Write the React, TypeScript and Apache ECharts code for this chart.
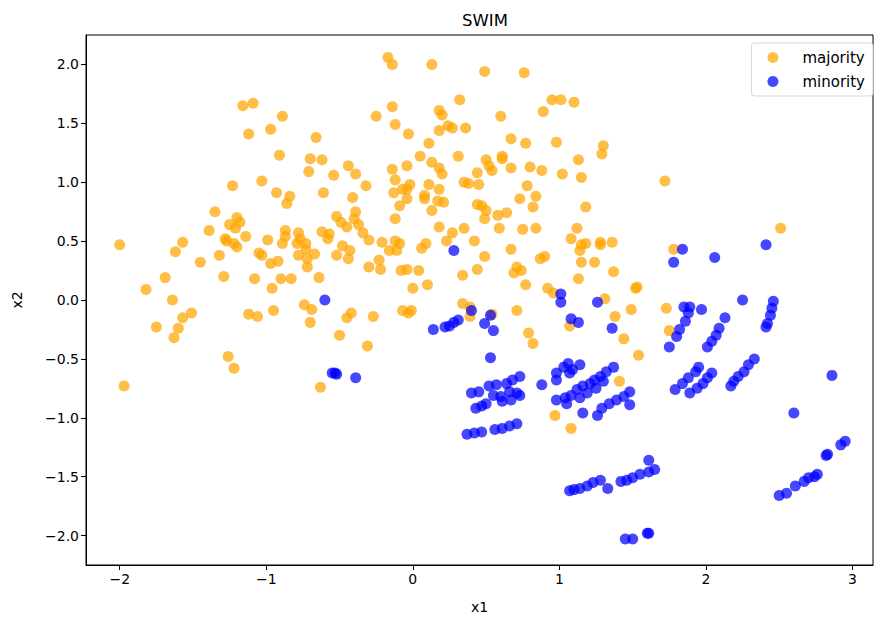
import React, { useEffect, useRef } from "react";
import * as echarts from "echarts";

const chartTitle = "SWIM";
const xName = "x1";
const yName = "x2";
const seriesNames = ["majority", "minority"];
const xTicks = [-2, -1, 0, 1, 2, 3];
const yTicks = [-2, -1.5, -1, -0.5, 0, 0.5, 1, 1.5, 2];

const majorityPoints: number[][] = [
  [-1.16, 1.65], [-1.09, 1.67], [-0.89, 1.56], [-1.12, 1.41], [-0.97, 1.45], [-0.66, 1.38],
  [-0.91, 1.23], [-0.70, 1.20], [-0.62, 1.19], [-0.71, 1.09], [-0.54, 1.06], [-0.44, 1.14],
  [-0.39, 1.07], [-0.32, 0.97], [-0.25, 1.56], [-1.23, 0.97], [-1.03, 1.01], [-0.93, 0.91],
  [-0.84, 0.88], [-0.86, 0.82], [-0.61, 0.91], [-0.41, 0.87], [-1.35, 0.75], [-1.20, 0.70],
  [-1.18, 0.66], [-1.25, 0.64], [-0.52, 0.71], [-0.49, 0.66], [-0.39, 0.75], [-0.40, 0.69],
  [-0.37, 0.64], [-0.45, 0.62],
  [-0.17, 2.06], [-0.14, 2.00], [0.13, 2.00], [0.49, 1.94], [0.76, 1.93], [-0.14, 1.64],
  [0.32, 1.70], [0.18, 1.61], [0.20, 1.57], [0.60, 1.56], [0.95, 1.70], [1.01, 1.70],
  [1.10, 1.68], [0.89, 1.60], [-0.12, 1.49], [-0.03, 1.41], [0.18, 1.44], [0.24, 1.48],
  [0.27, 1.46], [0.36, 1.46], [0.11, 1.33], [0.67, 1.37], [0.77, 1.33], [0.98, 1.34],
  [1.30, 1.31], [1.29, 1.24], [0.05, 1.22], [0.31, 1.22], [0.50, 1.19], [0.61, 1.22],
  [0.61, 1.20], [1.13, 1.19], [-0.14, 1.11], [-0.04, 1.14], [0.13, 1.17], [0.18, 1.12],
  [0.20, 1.07], [0.52, 1.14], [0.54, 1.10], [0.67, 1.12], [0.80, 1.13], [0.88, 1.10],
  [1.02, 1.07], [1.15, 1.04], [-0.12, 1.02], [-0.13, 0.91], [-0.04, 0.94], [-0.02, 0.98],
  [-0.07, 0.94], [0.11, 0.98], [0.18, 0.94], [0.08, 0.89], [0.08, 0.86], [-0.04, 0.86],
  [-0.09, 0.80], [0.17, 0.84], [0.21, 0.83], [0.13, 0.76], [0.35, 1.00], [0.38, 0.99],
  [0.44, 1.08], [0.45, 0.98], [0.78, 0.97], [0.84, 0.88], [0.73, 0.86], [0.82, 0.79],
  [1.18, 0.79], [0.44, 0.81], [0.47, 0.80], [0.50, 0.76], [0.49, 0.69], [0.58, 0.72],
  [0.64, 0.74], [-0.12, 0.69], [0.18, 0.62], [0.35, 0.61], [0.59, 0.61], [0.75, 0.60],
  [0.84, 0.61], [1.12, 0.61],
  [1.72, 1.01], [2.51, 0.61],
  [-2.00, 0.47], [-1.57, 0.49], [-1.62, 0.41], [-1.39, 0.59], [-1.45, 0.32], [-1.32, 0.38],
  [-1.28, 0.52], [-1.27, 0.50], [-1.21, 0.61], [-1.22, 0.48], [-1.20, 0.45], [-1.14, 0.54],
  [-1.29, 0.20], [-1.69, 0.19], [-1.82, 0.09], [-1.64, 0.00], [-1.57, -0.15], [-1.51, -0.11],
  [-1.75, -0.23], [-1.60, -0.24], [-1.63, -0.32], [-1.26, -0.48], [-1.22, -0.58], [-1.97, -0.73],
  [-1.05, 0.40], [-1.03, 0.38], [-0.99, 0.51], [-0.97, 0.31], [-0.92, 0.33], [-1.08, 0.18],
  [-0.96, 0.10], [-0.90, 0.18], [-0.83, 0.18], [-0.87, 0.59], [-0.87, 0.54], [-0.89, 0.48],
  [-0.78, 0.57], [-0.77, 0.52], [-0.79, 0.48], [-0.73, 0.48], [-0.73, 0.43], [-0.78, 0.38],
  [-0.72, 0.35], [-0.72, 0.28], [-0.67, 0.39], [-0.64, 0.19], [-0.62, 0.58], [-0.57, 0.56],
  [-0.58, 0.52], [-0.52, 0.38], [-0.48, 0.46], [-0.43, 0.42], [-0.44, 0.35], [-0.34, 0.57],
  [-0.30, 0.51], [-0.74, -0.04], [-0.69, -0.08], [-0.70, -0.19], [-1.12, -0.12], [-1.06, -0.14],
  [-0.95, -0.09], [-0.50, -0.30], [-0.45, -0.15], [-0.42, -0.11], [-0.27, -0.14], [-0.31, -0.39],
  [-0.63, -0.74],
  [0.27, 0.57], [0.23, 0.50], [0.42, 0.50], [1.08, 0.52], [-0.21, 0.49], [-0.16, 0.42],
  [-0.12, 0.50], [-0.09, 0.48], [-0.11, 0.42], [0.06, 0.44], [0.09, 0.48], [-0.30, 0.28],
  [-0.23, 0.34], [-0.22, 0.26], [-0.08, 0.25], [-0.04, 0.26], [0.04, 0.25], [0.10, 0.13],
  [0.00, 0.10], [-0.07, -0.09], [-0.01, -0.09], [-0.03, -0.11], [0.34, 0.21], [0.44, 0.26],
  [0.49, 0.37], [0.67, 0.43], [0.71, 0.28], [0.69, 0.23], [0.74, 0.25], [0.77, 0.13],
  [0.87, 0.35], [0.90, 0.37], [0.92, 0.10], [0.96, 0.06], [0.34, -0.03], [0.39, -0.06],
  [0.39, -0.14], [0.54, -0.12], [0.71, -0.09], [0.79, -0.28], [0.82, -0.37], [1.15, 0.47],
  [1.18, 0.48], [1.14, 0.42], [1.28, 0.49], [1.28, 0.47], [1.36, 0.49], [1.15, 0.32],
  [1.24, 0.32], [1.13, 0.18], [1.37, 0.24], [1.31, 0.01], [1.07, -0.22], [1.38, -0.14],
  [1.78, 0.43], [1.52, 0.10], [1.53, 0.11], [1.49, -0.08], [1.73, -0.07], [1.75, -0.26],
  [1.44, -0.33], [1.54, -0.47], [1.41, -0.69],
  [0.97, -0.98], [1.08, -1.09],
];

const minorityPoints: number[][] = [
  [-0.60, 0.00], [-0.55, -0.62], [-0.52, -0.63], [-0.53, -0.62], [-0.39, -0.66],
  [0.28, 0.42], [0.40, -0.09], [0.53, -0.13], [0.49, -0.20], [0.55, -0.26], [0.14, -0.25],
  [0.22, -0.23], [0.25, -0.22], [0.28, -0.19], [0.31, -0.17], [0.53, -0.49], [1.01, 0.05],
  [1.01, -0.02], [1.08, -0.16], [1.13, -0.19], [1.26, -0.02], [1.36, -0.24], [0.88, -0.72],
  [0.40, -0.79], [0.45, -0.78], [0.52, -0.73], [0.57, -0.72], [0.64, -0.71], [0.68, -0.68],
  [0.73, -0.65], [0.55, -0.81], [0.60, -0.82], [0.66, -0.78], [0.71, -0.79], [0.73, -0.81],
  [0.61, -0.86], [0.67, -0.85], [0.43, -0.92], [0.47, -0.90], [0.50, -0.88], [0.37, -1.14],
  [0.42, -1.13], [0.47, -1.12], [0.56, -1.10], [0.61, -1.09], [0.66, -1.07], [0.71, -1.05],
  [0.98, -0.62], [0.98, -0.68], [1.03, -0.57], [1.06, -0.54], [1.09, -0.59], [1.14, -0.55],
  [1.07, -0.62], [0.98, -0.85], [1.04, -0.83], [1.08, -0.81], [1.12, -0.76], [1.16, -0.73],
  [1.21, -0.71], [1.24, -0.68], [1.28, -0.65], [1.32, -0.61], [1.37, -0.57], [1.05, -0.88],
  [1.14, -0.83], [1.19, -0.79], [1.25, -0.75], [1.30, -0.69], [1.16, -0.96], [1.26, -0.98],
  [1.29, -0.92], [1.34, -0.88], [1.39, -0.85], [1.44, -0.82], [1.48, -0.78], [1.48, -0.89],
  [1.84, 0.43], [1.78, 0.32], [2.06, 0.36], [2.41, 0.47], [2.25, 0.00], [2.46, -0.01],
  [2.45, -0.07], [2.44, -0.13], [2.42, -0.20], [2.41, -0.23], [1.85, -0.06], [1.89, -0.06],
  [1.88, -0.11], [1.86, -0.18], [1.82, -0.25], [1.80, -0.31], [1.97, -0.08], [2.13, -0.15],
  [2.09, -0.24], [2.07, -0.30], [2.04, -0.35], [2.01, -0.40], [1.75, -0.40], [2.86, -0.64],
  [2.60, -0.96], [2.33, -0.50], [2.29, -0.55], [2.26, -0.61], [2.22, -0.65], [2.19, -0.69],
  [2.17, -0.73], [1.79, -0.76], [1.84, -0.71], [1.88, -0.66], [1.93, -0.61], [1.95, -0.57],
  [1.89, -0.79], [1.94, -0.75], [1.98, -0.71], [2.04, -0.62], [2.01, -0.66],
  [1.07, -1.62], [1.10, -1.61], [1.14, -1.60], [1.19, -1.58], [1.23, -1.55], [1.28, -1.53],
  [1.33, -1.60], [1.42, -1.54], [1.46, -1.53], [1.50, -1.51], [1.55, -1.48], [1.61, -1.46],
  [1.65, -1.44], [1.61, -1.36], [1.45, -2.03], [1.50, -2.03], [1.60, -1.98], [1.61, -1.98],
  [2.50, -1.66], [2.55, -1.64], [2.61, -1.58], [2.67, -1.54], [2.70, -1.51], [2.74, -1.50],
  [2.76, -1.48], [2.82, -1.32], [2.83, -1.31], [2.92, -1.23], [2.95, -1.20],
];

const fontFamily = "'DejaVu Sans', sans-serif";
const fmt = (v: number, d: number) => {
  const s = Math.abs(v).toFixed(d);
  return v < 0 ? "\u2212" + s : s;
};

export default function App() {
  const ref = useRef<HTMLDivElement>(null);
  useEffect(() => {
    if (!ref.current) return;
    const chart = echarts.init(ref.current, null, { renderer: "svg" });
    chart.setOption({
      animation: false,
      backgroundColor: "#ffffff",
      textStyle: { fontFamily },
      title: {
        text: chartTitle,
        left: 480,
        top: 7,
        textAlign: "center",
        textStyle: { fontFamily, fontSize: 16.5, fontWeight: "normal", color: "#000" },
      },
      legend: {
        orient: "vertical",
        right: 1,
        top: 43,
        data: seriesNames,
        icon: "circle",
        itemWidth: 11,
        itemHeight: 11,
        itemGap: 7,
        padding: [6, 8, 6, 16],
        backgroundColor: "#fff",
        borderColor: "#d8d8d8",
        borderWidth: 1,
        borderRadius: 3,
        textStyle: {
          fontFamily,
          fontSize: 15,
          color: "#000",
          padding: [0, 0, 0, 19],
          lineHeight: 17,
        },
      },
      grid: {
        left: 86,
        right: 1,
        top: 35,
        bottom: 52,
        show: true,
        borderColor: "#000",
        borderWidth: 1,
        containLabel: false,
        outerBoundsMode: "none",
      },
      xAxis: {
        type: "value",
        min: -2.23,
        max: 3.14,
        name: xName,
        nameLocation: "middle",
        nameGap: 35,
        nameTextStyle: { fontFamily, fontSize: 14, color: "#000" },
        axisLine: { show: true, onZero: false, lineStyle: { color: "#000", width: 1 } },
        axisTick: { show: true, length: 5, lineStyle: { color: "#000" }, customValues: xTicks },
        axisLabel: {
          customValues: xTicks,
          formatter: (v: number) => fmt(v, 0),
          fontFamily,
          fontSize: 14,
          color: "#000",
          margin: 7,
        },
        splitLine: { show: false },
      },
      yAxis: {
        type: "value",
        min: -2.25,
        max: 2.25,
        name: yName,
        nameLocation: "middle",
        nameGap: 62,
        nameRotate: 90,
        nameTextStyle: { fontFamily, fontSize: 14, color: "#000" },
        axisLine: { show: true, onZero: false, lineStyle: { color: "#000", width: 1 } },
        axisTick: { show: true, length: 5, lineStyle: { color: "#000" }, customValues: yTicks },
        axisLabel: {
          customValues: yTicks,
          formatter: (v: number) => fmt(v, 1),
          fontFamily,
          fontSize: 14,
          color: "#000",
          margin: 7,
        },
        splitLine: { show: false },
      },
      series: [
        {
          name: seriesNames[0],
          type: "scatter",
          data: majorityPoints,
          symbolSize: 11,
          itemStyle: { color: "#FFA500", opacity: 0.72 },
        },
        {
          name: seriesNames[1],
          type: "scatter",
          data: minorityPoints,
          symbolSize: 11,
          itemStyle: { color: "#0000FF", opacity: 0.72 },
        },
      ],
    });
    return () => chart.dispose();
  }, []);
  return (
    <div
      ref={ref}
      style={{ position: "fixed", left: 0, top: 0, width: 874, height: 617, background: "#fff" }}
    />
  );
}
